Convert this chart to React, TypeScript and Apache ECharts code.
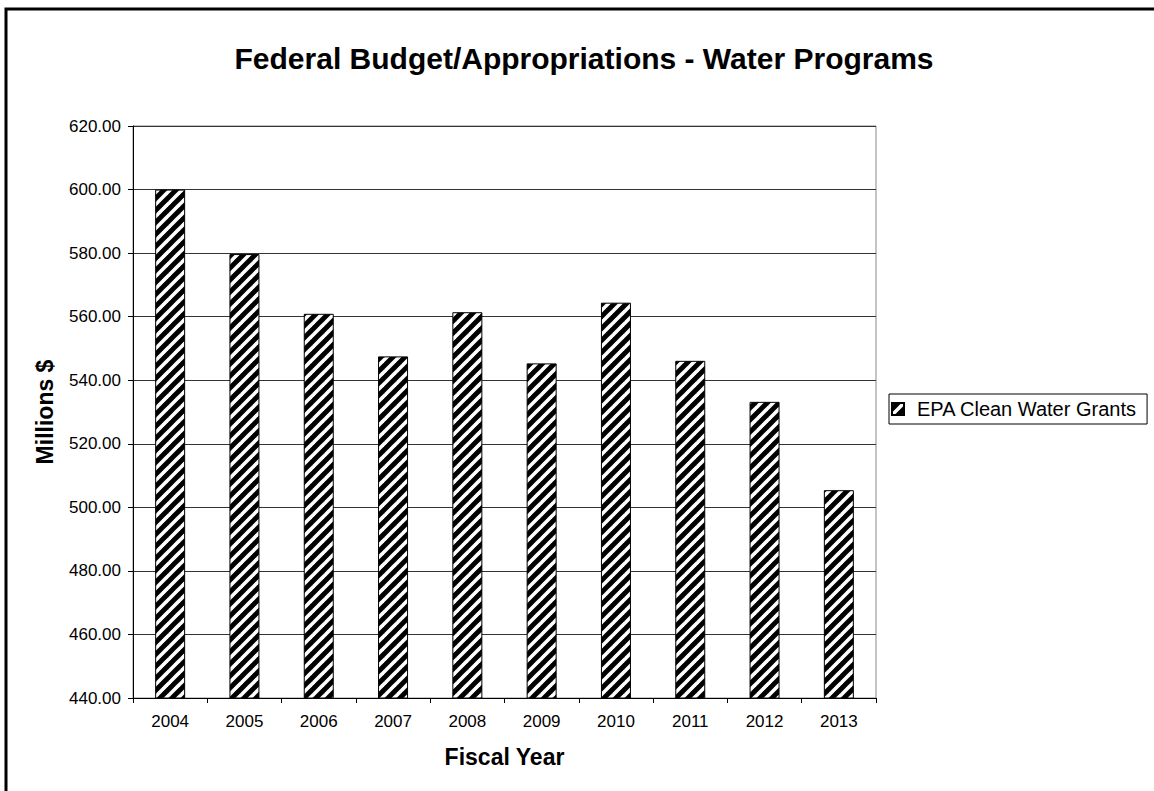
import React, { useEffect, useRef } from "react";
import * as echarts from "echarts";

const years = ["2004", "2005", "2006", "2007", "2008", "2009", "2010", "2011", "2012", "2013"];
const cleanWaterGrants = [600.0, 579.7, 560.9, 547.5, 561.4, 545.3, 564.4, 546.1, 533.2, 505.4];
const seriesName = "EPA Clean Water Grants";
const yMin = 440;
const yMax = 620;
const yStep = 20;

const FONT = "'Liberation Sans', Arial, Helvetica, sans-serif";

function makeStripeTile(): HTMLCanvasElement {
  const s = 12;
  const c = document.createElement("canvas");
  c.width = s;
  c.height = s;
  const ctx = c.getContext("2d")!;
  ctx.fillStyle = "#000";
  ctx.fillRect(0, 0, s, s);
  ctx.strokeStyle = "#fff";
  ctx.lineWidth = 3.6;
  const seg = (x1: number, y1: number, x2: number, y2: number) => {
    ctx.beginPath();
    ctx.moveTo(x1, y1);
    ctx.lineTo(x2, y2);
    ctx.stroke();
  };
  seg(-3, s + 3, s + 3, -3);
  seg(-3, 3, 3, -3);
  seg(s - 3, s + 3, s + 3, s - 3);
  return c;
}

export default function App() {
  const ref = useRef<HTMLDivElement>(null);

  useEffect(() => {
    if (!ref.current) return;
    const chart = echarts.init(ref.current, null, { renderer: "svg" });
    const tile = makeStripeTile();
    const pattern: any = {
      image: tile,
      repeat: "repeat",
      imageWidth: tile.width,
      imageHeight: tile.height,
    };

    chart.setOption({
      animation: false,
      backgroundColor: "#fff",
      textStyle: { fontFamily: FONT, color: "#000" },
      title: {
        text: "Federal Budget/Appropriations - Water Programs",
        left: 584,
        top: 43,
        textAlign: "center",
        padding: 0,
        textStyle: { fontFamily: FONT, fontSize: 30, fontWeight: "bold", color: "#000" },
      },
      legend: {
        data: [seriesName],
        left: 889,
        top: 394,
        orient: "vertical",
        padding: [5, 10, 5, 2],
        borderColor: "#000",
        borderWidth: 1,
        itemWidth: 12,
        itemHeight: 12,
        icon: "rect",
        textStyle: { fontFamily: FONT, fontSize: 20, color: "#000", padding: [0, 0, 0, 8] },
      },
      grid: {
        left: 133,
        right: 278,
        top: 126,
        bottom: 93,
        show: true,
        borderColor: "#888",
        borderWidth: 1,
        backgroundColor: "transparent",
      },
      xAxis: {
        type: "category",
        data: years,
        boundaryGap: true,
        name: "Fiscal Year",
        nameLocation: "middle",
        nameGap: 47,
        nameTextStyle: { fontFamily: FONT, fontSize: 23, fontWeight: "bold", color: "#000" },
        axisLine: { show: true, lineStyle: { color: "#000", width: 1 } },
        axisTick: { show: true, length: 5, alignWithLabel: false, lineStyle: { color: "#000" } },
        axisLabel: { fontFamily: FONT, fontSize: 17, color: "#000", margin: 15 },
        splitLine: { show: false },
      },
      yAxis: {
        type: "value",
        min: yMin,
        max: yMax,
        interval: yStep,
        name: "Millions $",
        nameLocation: "middle",
        nameGap: 77,
        nameRotate: 90,
        nameTextStyle: { fontFamily: FONT, fontSize: 23, fontWeight: "bold", color: "#000" },
        axisLine: { show: true, lineStyle: { color: "#000", width: 1 } },
        axisTick: { show: true, length: 5, lineStyle: { color: "#000" } },
        axisLabel: {
          fontFamily: FONT,
          fontSize: 17,
          color: "#000",
          margin: 12,
          formatter: (v: number) => v.toFixed(2),
        },
        splitLine: { show: true, lineStyle: { color: "#333", width: 1 } },
      },
      series: [
        {
          name: seriesName,
          type: "bar",
          data: cleanWaterGrants,
          barWidth: 30,
          itemStyle: { color: pattern, borderColor: "#000", borderWidth: 1 },
        },
      ],
      graphic: [
        {
          type: "rect",
          silent: true,
          z: 100,
          shape: { x: 6, y: 9, width: 3000, height: 3000 },
          style: { fill: "none", stroke: "#000", lineWidth: 3 },
        },
      ],
    });

    return () => chart.dispose();
  }, []);

  return (
    <div
      ref={ref}
      style={{ position: "absolute", left: 0, top: 0, width: 1154, height: 791 }}
    />
  );
}
